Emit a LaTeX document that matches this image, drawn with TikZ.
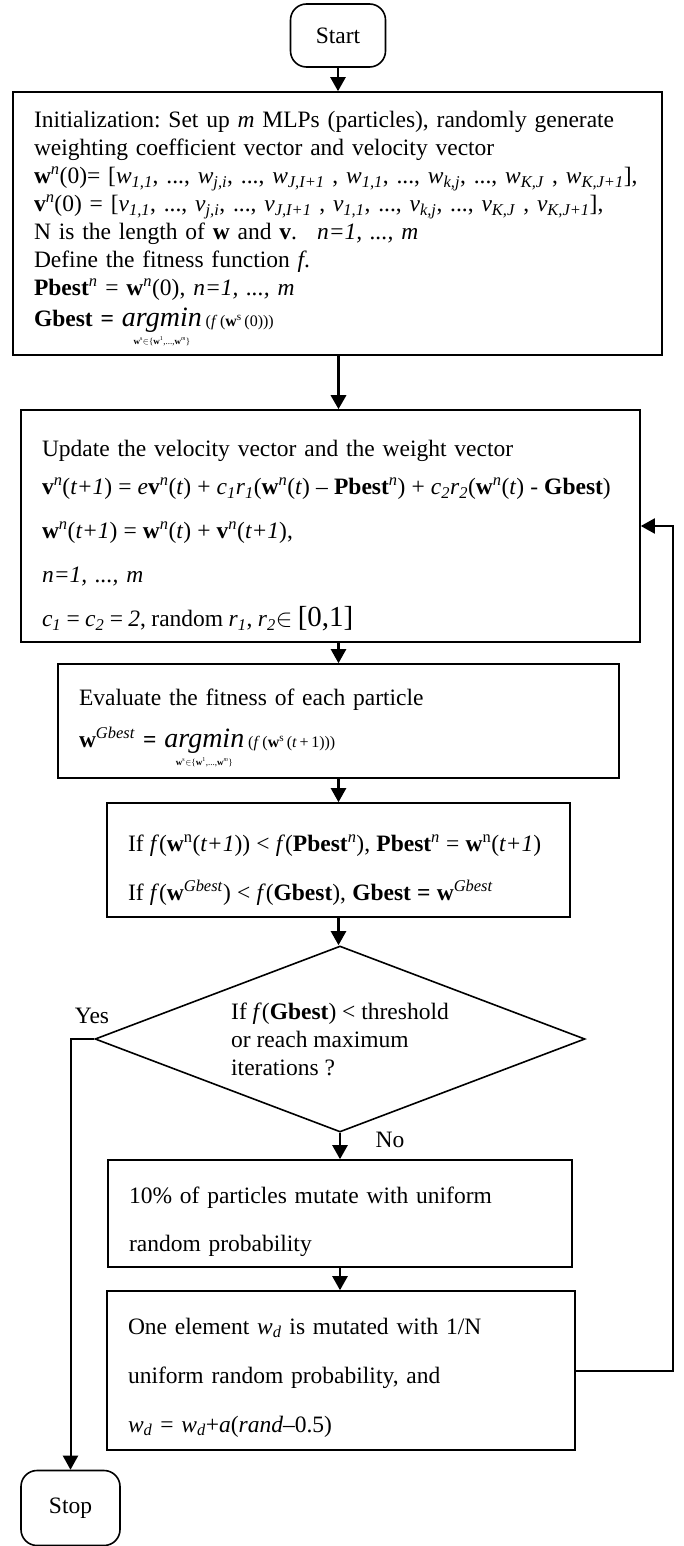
\documentclass[tikz,border=0pt]{standalone}
\usepackage{fontspec}
\setmainfont{Liberation Serif}
\usetikzlibrary{shapes.geometric,arrows.meta,calc}

\newcommand{\subx}[1]{\textsubscript{#1}}
\newcommand{\supx}[1]{\textsuperscript{#1}}
\newcommand{\Wsub}[1]{\textit{w}\subx{\textit{#1}}}
\newcommand{\Vsub}[1]{\textit{v}\subx{\textit{#1}}}
\newcommand{\tp}[1]{\rule{0pt}{#1}}
\newcommand{\amin}[1]{\begin{tabular}[t]{@{}c@{}}{\fontsize{28}{28}\selectfont\itshape argmin}\\[-10pt]{\fontsize{9}{9}\selectfont\textbf{w}\supx{s}$\in$\{\textbf{w}\supx{1},...,\textbf{w}\supx{\textit{m}}\}}\end{tabular}\,{\fontsize{16}{16}\selectfont(\textit{f}\,(\textbf{w}\supx{s}\,#1))}}

\begin{document}
\frenchspacing
\begin{tikzpicture}[x=1pt,y=-1pt,
  font=\fontsize{23.5}{28}\selectfont\frenchspacing,
  box/.style={draw, line width=1.6pt, rectangle, align=left, inner xsep=21pt, inner ysep=0pt},
  term/.style={draw, line width=1.6pt, rectangle, rounded corners=16pt, align=center, inner sep=0pt},
  decis/.style={draw, line width=1.6pt, diamond, aspect=2.63, align=left, inner sep=0pt, minimum width=490pt, minimum height=186pt},
  arr/.style={line width=2.4pt, -{Triangle[length=14pt,width=15pt]}},
  lbl/.style={inner sep=0pt}]
\fill[white] (0,0) rectangle (684,1546);
\useasboundingbox (0,0) rectangle (684,1546);

\coordinate (col) at (338.5,0);
\coordinate (rt) at (673,0);
\coordinate (lf) at (70.5,0);

\node[term, minimum width=95pt, minimum height=63pt] (start) at (338,35.5) {Start};

\node[box, minimum height=263pt, text width=607pt] (init) at (337.5,223.5) {\tp{33pt}Initialization: Set up \textit{m} MLPs (particles), randomly generate\\
weighting coefficient vector and velocity vector\\
\mbox{\textbf{w}\supx{\textit{n}}(0)= [\Wsub{1,1}, ..., \Wsub{j,i}, ..., \Wsub{J,I+1} , \Wsub{1,1}, ..., \Wsub{k,j}, ..., \Wsub{K,J} , \Wsub{K,J+1}],}\\
\mbox{\textbf{v}\supx{\textit{n}}(0) = [\Vsub{1,1}, ..., \Vsub{j,i}, ..., \Vsub{J,I+1} , \Vsub{1,1}, ..., \Vsub{k,j}, ..., \Vsub{K,J} , \Vsub{K,J+1}],}\\
N is the length of \textbf{w} and \textbf{v}.\hspace{20pt}\textit{n=1, ..., m}\\
Define the fitness function \textit{f}.\\
\textbf{Pbest}\supx{\textit{n}} = \textbf{w}\supx{\textit{n}}(0), \textit{n=1, ..., m}\\[3pt]
\textbf{Gbest =}\hspace{8pt}\amin{(0)}};

\node[box, minimum height=232pt, text width=577pt] (update) at (330.5,526) {\tp{36pt}Update the velocity vector and the weight vector\\[10pt]
\mbox{\spaceskip=6.1pt\relax\textbf{v}\supx{\textit{n}}(\textit{t+1}) = \textit{e}\textbf{v}\supx{\textit{n}}(\textit{t}) + \textit{c}\subx{\textit{1}}\textit{r}\subx{\textit{1}}(\textbf{w}\supx{\textit{n}}(\textit{t}) – \textbf{Pbest}\supx{\textit{n}}) + \textit{c}\subx{\textit{2}}\textit{r}\subx{\textit{2}}(\textbf{w}\supx{\textit{n}}(\textit{t}) - \textbf{Gbest})}\\[16pt]
\mbox{\spaceskip=6.1pt\relax\textbf{w}\supx{\textit{n}}(\textit{t+1}) = \textbf{w}\supx{\textit{n}}(\textit{t}) + \textbf{v}\supx{\textit{n}}(\textit{t+1}),}\\[16pt]
\textit{n=1, ..., m}\\[16pt]
\mbox{\spaceskip=5.4pt\relax\textit{c}\subx{\textit{1}} = \textit{c}\subx{\textit{2}} = \textit{2}, random \textit{r}\subx{\textit{1}}, \textit{r}\subx{\textit{2}}$\in$ {\fontsize{29}{29}\selectfont [0,1]}}};

\node[box, minimum height=114pt, text width=519pt] (eval) at (338.5,721) {\tp{37pt}Evaluate the fitness of each particle\\[14pt]
\textbf{w}\supx{\textit{Gbest}} \textbf{=}\hspace{8pt}\amin{(\textit{t}\,+\,1)}};

\node[box, minimum height=114pt, text width=421pt] (ifb) at (338.5,860) {\tp{37pt}\mbox{\spaceskip=6.2pt\relax If \textit{f}(\textbf{w}\supx{n}(\textit{t+1})) < \textit{f}(\textbf{Pbest}\supx{\textit{n}}), \textbf{Pbest}\supx{\textit{n}} = \textbf{w}\supx{n}(\textit{t+1})}\\[21pt]
\mbox{\spaceskip=6.2pt\relax If \textit{f}(\textbf{w}\supx{\textit{Gbest}}) < \textit{f}(\textbf{Gbest}), \textbf{Gbest = w}\supx{\textit{Gbest}}}};

\node[decis] (dec) at (340,1039) {If \textit{f}(\textbf{Gbest}) < threshold\\or reach maximum\\iterations ?};

\node[box, minimum height=107pt, text width=422pt] (mut1) at (340,1213.5) {\tp{34pt}10\% of particles mutate with uniform\\[20pt]random probability};

\node[box, minimum height=159pt, text width=426pt] (mut2) at (341,1370.5) {\tp{30pt}One element \textit{w}\subx{\textit{d}} is mutated with 1/N\\[21pt]
uniform random probability, and\\[21pt]
\textit{w}\subx{\textit{d}} = \textit{w}\subx{\textit{d}}+\textit{a}(\textit{rand}–0.5)};

\node[term, minimum width=99pt, minimum height=75pt] (stop) at (70.5,1508) {Stop};

\node[lbl] (yes) at (92,1016) {Yes};
\node[lbl] (no) at (390,1140) {No};

\draw[arr] (start.south) -- (start.south |- init.north);
\draw[arr, line width=3.2pt] (init.south -| col) -- (update.north -| col);
\draw[arr] (update.south -| col) -- (eval.north -| col);
\draw[arr] (eval.south -| col) -- (ifb.north -| col);
\draw[arr] (ifb.south -| col) -- (dec.north -| col);
\draw[arr] (dec.south) -- (dec.south |- mut1.north);
\draw[arr] (mut1.south) -- (mut1.south |- mut2.north);
\draw[arr, line width=2pt] (mut2.east) -- (mut2.east -| rt) -- (rt |- update.east) -- (update.east);
\draw[arr, line width=2pt] (dec.west) -- (dec.west -| lf) -- (stop.north);
\end{tikzpicture}
\end{document}
